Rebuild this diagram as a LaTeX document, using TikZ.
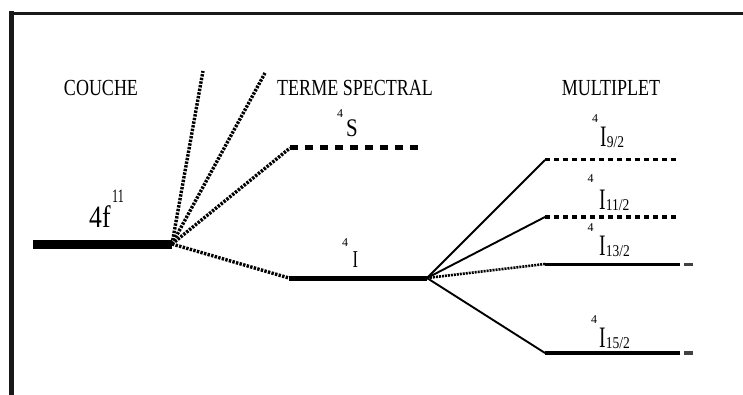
\documentclass[tikz,border=0pt]{standalone}
\usepackage{fontspec}
\setmainfont{Liberation Serif}
\newcommand\fs[1]{\fontsize{#1}{#1}\selectfont}
% tall, narrow lettering
\newcommand\tall[2][0.9]{\scalebox{#1}[1.15]{#2}}
% term symbol: I with a subscript
\newcommand\termI[1]{\scalebox{0.72}[1.1]{\fs{27}I}\hspace{0.3pt}\raisebox{-1pt}{\fs{15}\scalebox{0.9}[1.1]{#1}}}
\begin{document}
\begin{tikzpicture}[x=1pt,y=-1pt,
  header/.style={font=\fs{20}, inner sep=0pt},
  pre/.style={font=\fs{12}, inner sep=0pt, anchor=base west},
  lab/.style={inner sep=0pt, anchor=base west},
  fan/.style={line width=3.4pt, dash pattern=on 2.4pt off 1.3pt},
  thinfan/.style={line width=1.9pt},
  dotfan/.style={line width=2.6pt, dash pattern=on 2pt off 1pt},
  termdash/.style={line width=5pt, dash pattern=on 8pt off 7pt},
  multdash/.style={line width=3pt, dash pattern=on 5pt off 4pt},
  multline/.style={line width=3pt},
  frame/.style={black!90}]
\useasboundingbox (0,0) rectangle (743,395);

% open frame: top and left sides
\coordinate (fbl) at (11.5,395);
\coordinate (ftl) at (11.5,11.5);
\coordinate (ftr) at (743,13.5);
\draw[frame, line width=4.5pt] (fbl) -- (ftl);
\draw[frame, line width=3pt] (9.25,13.5) -- (ftr);

% column headers
\node[header] (couche) at (101,88) {\tall{COUCHE}};
\node[header] (terme) at (355,88) {\tall{TERME SPECTRAL}};
\node[header] (multiplet) at (611,88) {\tall{MULTIPLET}};

% configuration 4f^11
\coordinate (c0) at (33,244);
\coordinate (o1) at (172,244);
\draw[line width=9pt] (c0) -- (o1);
\node[lab, font=\fs{27}] (cfg) at (89,227) {\tall[0.95]{4f}};
\node[lab] (cfgsup) at (112,203) {\scalebox{0.67}[1.05]{\fs{18}11}};

% spectral terms
\coordinate (t1) at (203,71);
\coordinate (t2) at (265,73);
\coordinate (s0) at (290,148);
\coordinate (s1) at (422,148);
\coordinate (i0) at (289,278);
\coordinate (o2) at (427,278);
\draw[fan] (o1) -- (t1);
\draw[fan] (o1) -- (t2);
\draw[fan] (o1) -- (s0);
\draw[fan] (o1) -- (i0);
\draw[termdash] (s0) -- (s1);
\draw[line width=5pt] (i0) -- (o2);
\node[pre] (ssup) at (337,118) {4};
\node[lab, font=\fs{22}] (sterm) at (346,137) {\tall[0.95]{S}};
\node[pre] (isup) at (342,246) {4};
\node[lab] (iterm) at (352.5,267) {\scalebox{0.75}[1.1]{\fs{22}I}};

% multiplets
\coordinate (m1) at (545,160);
\coordinate (m1e) at (678,160);
\coordinate (m2) at (545,217);
\coordinate (m2e) at (678,217);
\coordinate (m3) at (545,264);
\coordinate (m3e) at (680,264);
\coordinate (m3t) at (684,264);
\coordinate (m3u) at (693,264);
\coordinate (m4) at (545,353);
\coordinate (m4e) at (680,353);
\coordinate (m4t) at (684,353);
\coordinate (m4u) at (693,353);
\draw[thinfan] (o2) -- (m1);
\draw[thinfan] (o2) -- (m2);
\draw[dotfan] (o2) -- (m3);
\draw[thinfan] (o2) -- (m4);
\draw[multdash] (m1) -- (m1e);
\draw[multdash] (m2) -- (m2e);
\draw[multline] (m3) -- (m3e);
\draw[multline, black!75] (m3t) -- (m3u);
\draw[multline, line width=3.5pt] (m4) -- (m4e);
\draw[multline, line width=3.5pt, black!75] (m4t) -- (m4u);

\node[pre] (sup92) at (592,123) {4};
\node[lab] (l92) at (600,147) {\termI{9/2}};
\node[pre] (sup112) at (587.5,183) {4};
\node[lab] (l112) at (599,210) {\termI{11/2}};
\node[pre] (sup132) at (587.5,231) {4};
\node[lab] (l132) at (599,255) {\termI{13/2}};
\node[pre] (sup152) at (591,323) {4};
\node[lab] (l152) at (599,347) {\termI{15/2}};
\end{tikzpicture}
\end{document}
